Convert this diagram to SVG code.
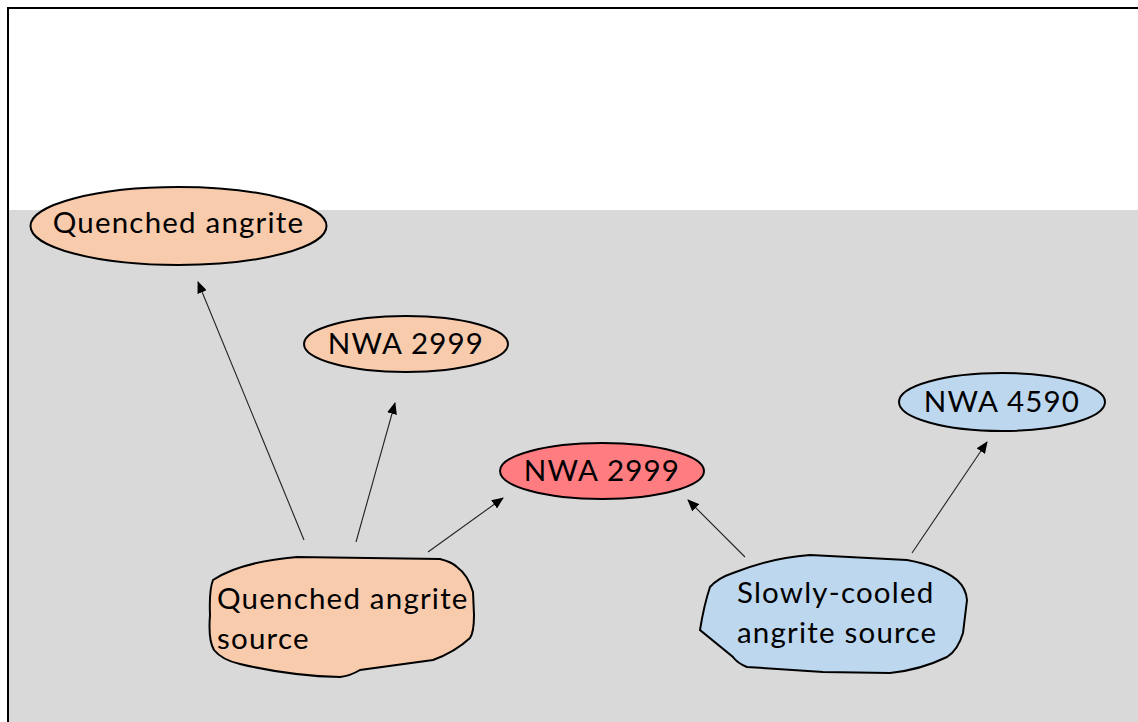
<svg xmlns="http://www.w3.org/2000/svg" width="1138" height="722" viewBox="0 0 1138 722">
<style>
.t{font-family:Lato,"Open Sans","Liberation Sans",sans-serif;font-size:29.5px;letter-spacing:1.2px;fill:#000}
.nd{stroke:#000;stroke-width:2}
.peach{fill:#F8CBAD}
.red{fill:#FF7C80}
.blue{fill:#BDD7EE}
.c{stroke:#222;stroke-width:1.1;fill:none;marker-end:url(#ah)}
</style>
<defs>
<marker id="ah" markerWidth="12" markerHeight="10" refX="11" refY="5" orient="auto" markerUnits="userSpaceOnUse">
<path d="M0,0 L12,5 L0,10 Z" fill="#000"/>
</marker>
</defs>
<rect x="0" y="0" width="1138" height="722" fill="#fff"/>
<rect x="9" y="210" width="1129" height="512" fill="#D9D9D9"/>
<path d="M8,722 V8 H1138" fill="none" stroke="#000" stroke-width="2"/>
<g id="connectors">
<line class="c" x1="304" y1="540" x2="198" y2="282"/>
<line class="c" x1="356" y1="542" x2="395" y2="403"/>
<line class="c" x1="428" y1="552" x2="503" y2="498"/>
<line class="c" x1="745" y1="557" x2="688" y2="500"/>
<line class="c" x1="912" y1="553" x2="987" y2="442"/>
</g>
<g id="quenched-angrite">
<ellipse class="nd peach" cx="178.5" cy="226" rx="148" ry="39"/>
<text class="t" x="178.5" y="233" text-anchor="middle">Quenched angrite</text>
</g>
<g id="nwa2999-peach">
<ellipse class="nd peach" cx="406" cy="344" rx="102" ry="28"/>
<text class="t" x="406" y="354" text-anchor="middle">NWA 2999</text>
</g>
<g id="nwa2999-red">
<ellipse class="nd red" cx="602" cy="471" rx="102" ry="28"/>
<text class="t" x="602" y="481" text-anchor="middle">NWA 2999</text>
</g>
<g id="nwa4590">
<ellipse class="nd blue" cx="1002" cy="402" rx="103" ry="29"/>
<text class="t" x="1002" y="412" text-anchor="middle">NWA 4590</text>
</g>
<g id="quenched-source">
<path class="nd peach" d="M213,580 Q240,562 297,557 L440,559 Q452,562 457,567 Q468,575 473,592 L474,615 Q474,632 470,638 Q455,652 433,660 L360,670 Q350,676 340,677 Q290,676 240,664 Q222,660 214,650 Q208,640 210,615 Q209,590 213,580 Z"/>
<text class="t" x="217" y="609">Quenched angrite</text>
<text class="t" x="217" y="649">source</text>
</g>
<g id="slowly-source">
<path class="nd blue" d="M733,573 Q770,558 810,555 L907,560 Q940,566 957,580 Q966,588 967,600 L963,633 Q958,650 947,657 Q920,670 890,673 L823,672 L747,667 Q737,663 733,657 L700,630 Q704,605 710,587 Q718,578 733,573 Z"/>
<text class="t" x="737" y="603">Slowly-cooled</text>
<text class="t" x="737" y="643">angrite source</text>
</g>
</svg>
